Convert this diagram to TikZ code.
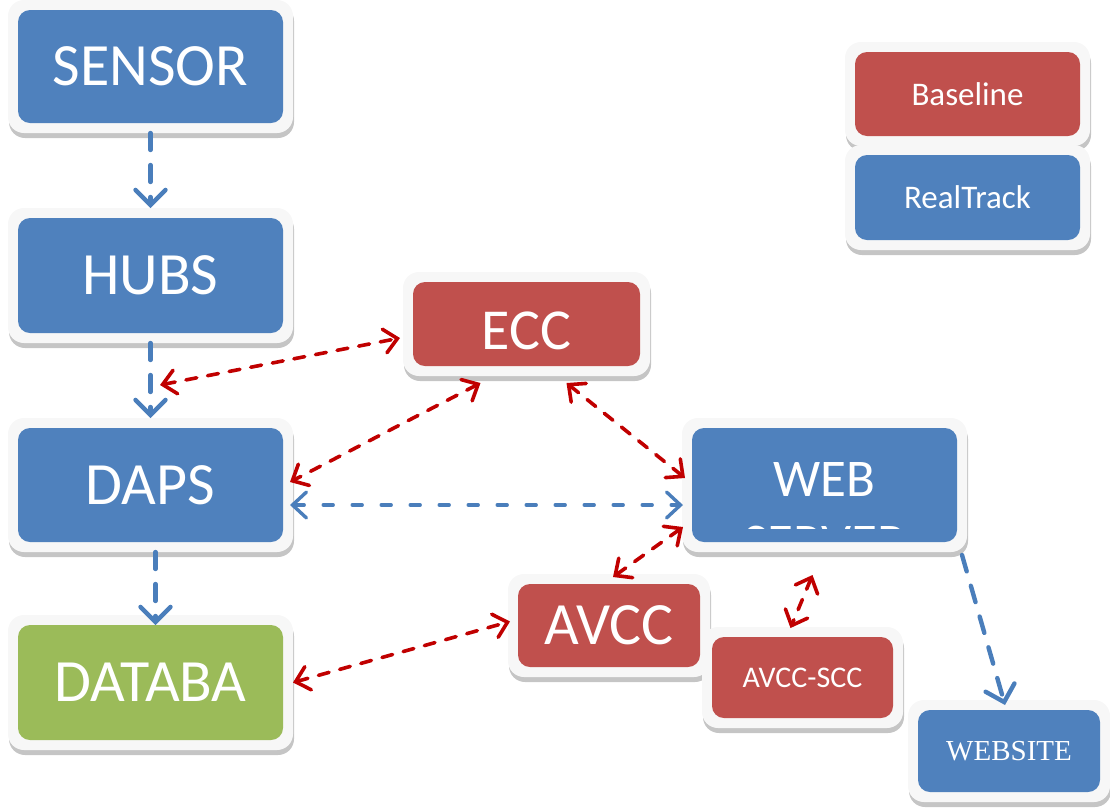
\documentclass[tikz,border=0pt]{standalone}
\usepackage{fontspec}
\setmainfont{Carlito}
\newfontfamily\serifweb{Liberation Serif}
\usetikzlibrary{calc}
\usetikzlibrary{shadows}
\usetikzlibrary{arrows.meta}
\definecolor{rtblue}{HTML}{4F81BD}
\definecolor{blred}{HTML}{C0504D}
\definecolor{dbgreen}{HTML}{9BBB59}
\definecolor{framegray}{HTML}{F7F7F7}
\definecolor{linkred}{HTML}{C00000}
\definecolor{linkblue}{HTML}{4A7EBB}
\tikzset{block/.style={ % framed box, #1 is the colour of its face
           inner sep=0pt, outer sep=0pt,
           fill=framegray, rounded corners=16pt,
           drop shadow={shadow xshift=1pt, shadow yshift=-5pt, fill=black!45},
           text=white,
           path picture={\fill[#1, rounded corners=12pt]
             ([shift={(10pt,10pt)}]path picture bounding box.south west) rectangle
             ([shift={(-10pt,-10pt)}]path picture bounding box.north east);}},
         bigtext/.style={font=\fontsize{60}{62}\selectfont},
         midtext/.style={font=\fontsize{33}{36}\selectfont},
         bluelink/.style={ % one way flow
           draw=linkblue, line width=4.4pt, line cap=round,
           dash pattern=on 17pt off 15pt,
           -{Straight Barb[length=15pt,width=30pt,line cap=round]}},
         bluepair/.style={
           draw=linkblue, line width=3.4pt, line cap=round,
           dash pattern=on 10pt off 19pt,
           {Straight Barb[length=14pt,width=26pt,line cap=round]}-{Straight Barb[length=14pt,width=26pt,line cap=round]}},
         redlink/.style={ % exchange in both ways
           draw=linkred, line width=3.6pt, line cap=round,
           dash pattern=on 11pt off 11pt,
           {Straight Barb[length=13pt,width=24pt,line cap=round]}-{Straight Barb[length=13pt,width=24pt,line cap=round]}}}
\begin{document}
\begin{tikzpicture}[x=1pt,y=-1pt]
  \useasboundingbox (0,0) rectangle (1110,807);

  \node [block=rtblue, bigtext, minimum width=285pt, minimum height=133pt] (sensor) at (150.5,66.5) {SENSOR};
  \node [block=rtblue, bigtext, minimum width=285pt, minimum height=135pt] (hubs) at (150.5,275.5) {HUBS};
  \node [block=rtblue, bigtext, minimum width=285pt, minimum height=134pt] (daps) at (150.5,485) {DAPS};
  \node [block=dbgreen, bigtext, minimum width=285pt, minimum height=135pt] (databa) at (150.5,682.5) {DATABA};

  \node [block=blred, font=\fontsize{58}{60}\selectfont, minimum width=247pt, minimum height=104pt, text height=51pt, text depth=0pt] (ecc) at (526.5,324) {ECC};
  \node [block=rtblue, font=\fontsize{53}{56}\selectfont, minimum width=285pt, minimum height=134pt, text height=22pt, text depth=0pt] (web) at (824.5,485) {WEB};
  \begin{scope}
    \clip (692,428) rectangle (957,528);
    \node [text=white, font=\fontsize{53}{56}\selectfont, inner sep=0pt, anchor=north] (server) at (824.5,526) {SERVER};
  \end{scope}
  \node [block=blred, bigtext, minimum width=202pt, minimum height=103pt] (avcc) at (609,625.5) {AVCC};
  \node [block=blred, font=\fontsize{30}{32}\selectfont, minimum width=201pt, minimum height=101pt] (avccscc) at (802.5,677.5) {AVCC-SCC};
  \node [block=rtblue, font=\serifweb\fontsize{29}{31}\selectfont, minimum width=202pt, minimum height=102pt] (website) at (1009,751) {WEBSITE};

  % key
  \node [block=blred, midtext, minimum width=245pt, minimum height=104pt] (baseline) at (967.5,94) {Baseline};
  \node [block=rtblue, midtext, minimum width=245pt, minimum height=105pt] (realtrack) at (967.5,197.5) {RealTrack};

  \coordinate (gap) at (160,385);

  \draw [bluelink] (sensor) -- (hubs);
  \draw [bluelink] (hubs) -- (daps);
  \draw [bluelink] ([xshift=5pt]daps.south) -- ([shift={(5,10)}]databa.north);
  \draw [bluelink] ([shift={(-5,3)}]web.south east) -- ([shift={(-4,5)}]website.north);
  \draw [bluepair] ([shift={(-3,20)}]daps.east) -- ([shift={(1,20)}]web.west);

  \draw [redlink] (gap) -- ([shift={(-3,14)}]ecc.west);
  \draw [redlink] ([shift={(-46,7)}]ecc.south) -- ([shift={(-3,-3)}]daps.east);
  \draw [redlink] ([shift={(40,7)}]ecc.south) -- ([shift={(3,-7)}]web.west);
  \draw [redlink] ([shift={(1,42)}]web.west) -- ([shift={(4,3)}]avcc.north);
  \draw [redlink] ([shift={(-12,23)}]web.south) -- ([shift={(-12,1)}]avccscc.north);
  \draw [redlink] (databa.east) -- ([shift={(2,-4)}]avcc.west);
\end{tikzpicture}
\end{document}
